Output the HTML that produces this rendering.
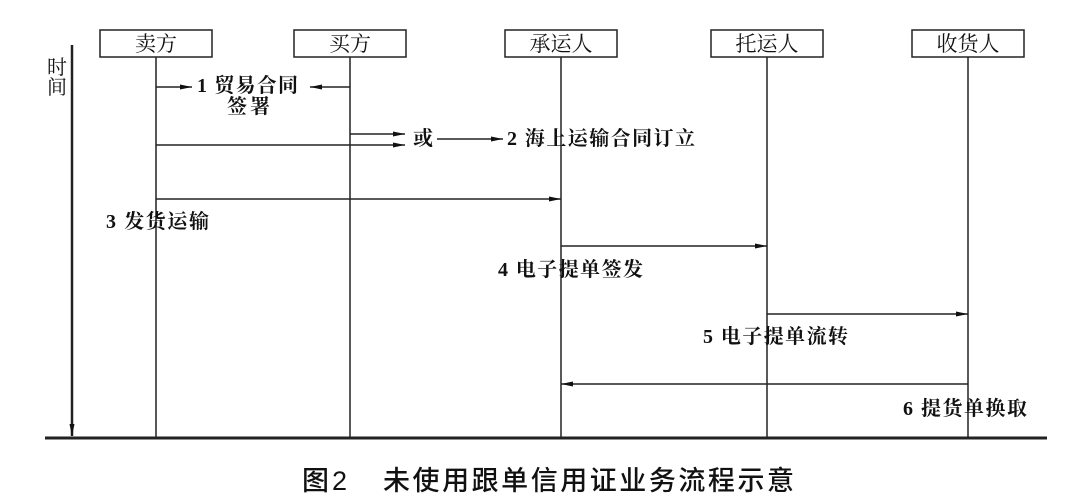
<!DOCTYPE html>
<html><head><meta charset="utf-8"><style>
html,body{margin:0;padding:0;background:#fff;}
svg{display:block;}
text{font-family:"Liberation Serif","Noto Serif CJK SC",serif;fill:#111;font-weight:bold;}
.n{font-weight:normal;}
.b{font-family:"Liberation Sans","Noto Sans CJK SC",sans-serif;font-weight:500;}
</style></head><body>
<svg width="1080" height="503" viewBox="0 0 1080 503" xmlns="http://www.w3.org/2000/svg">
<defs><marker id="a" markerWidth="12" markerHeight="8" refX="12" refY="4" orient="auto" markerUnits="userSpaceOnUse"><path d="M0,1.5 L12,4 L0,6.5 Z" fill="#111"/></marker></defs>
<g stroke="#222" stroke-width="1.5" fill="#fff">
<rect x="100" y="30" width="112" height="27"/>
<rect x="294" y="30" width="112" height="27"/>
<rect x="505" y="30" width="112" height="27"/>
<rect x="711" y="30" width="112" height="27"/>
<rect x="912" y="30" width="112" height="27"/>
</g>
<g stroke="#222" stroke-width="1.5">
<line x1="156" y1="57" x2="156" y2="438"/>
<line x1="350" y1="57" x2="350" y2="438"/>
<line x1="561" y1="57" x2="561" y2="438"/>
<line x1="767" y1="57" x2="767" y2="438"/>
<line x1="968" y1="57" x2="968" y2="438"/>
<line x1="72" y1="45" x2="72" y2="436" stroke-width="2.5" marker-end="url(#a)"/>
<line x1="45" y1="438" x2="1047" y2="438" stroke-width="3"/>
</g>
<g stroke="#222" stroke-width="1.5" marker-end="url(#a)">
<line x1="156" y1="87" x2="192" y2="87"/>
<line x1="350" y1="87" x2="310" y2="87"/>
<line x1="350" y1="134" x2="405" y2="134"/>
<line x1="156" y1="145" x2="405" y2="145"/>
<line x1="437" y1="139" x2="503" y2="139"/>
<line x1="156" y1="199" x2="561" y2="199"/>
<line x1="561" y1="246" x2="767" y2="246"/>
<line x1="767" y1="314" x2="968" y2="314"/>
<line x1="968" y1="384" x2="561" y2="384"/>
</g>
<g font-size="21" text-anchor="middle" dominant-baseline="central" class="n">
<text class="n" x="156" y="44">卖方</text>
<text class="n" x="350" y="44">买方</text>
<text class="n" x="561" y="44">承运人</text>
<text class="n" x="767" y="44">托运人</text>
<text class="n" x="968" y="44">收货人</text>
</g>
<g font-size="20" dominant-baseline="central">
<text class="n" x="47" y="68">时</text>
<text class="n" x="47" y="88">间</text>
<text x="197" y="86" textLength="101">1 贸易合同</text>
<text x="227" y="107" textLength="43">签署</text>
<text x="413" y="139" textLength="21">或</text>
<text x="507" y="139" textLength="188">2 海上运输合同订立</text>
<text x="106" y="222" textLength="103">3 发货运输</text>
<text x="498" y="270" textLength="145">4 电子提单签发</text>
<text x="703" y="337" textLength="145">5 电子提单流转</text>
<text x="903" y="409" textLength="124">6 提货单换取</text>
</g>
<text class="b" x="302" y="481" font-size="27" dominant-baseline="central" textLength="45">图2</text>
<text class="b" x="383" y="481" font-size="27" dominant-baseline="central" textLength="411">未使用跟单信用证业务流程示意</text>
</svg>
</body></html>
